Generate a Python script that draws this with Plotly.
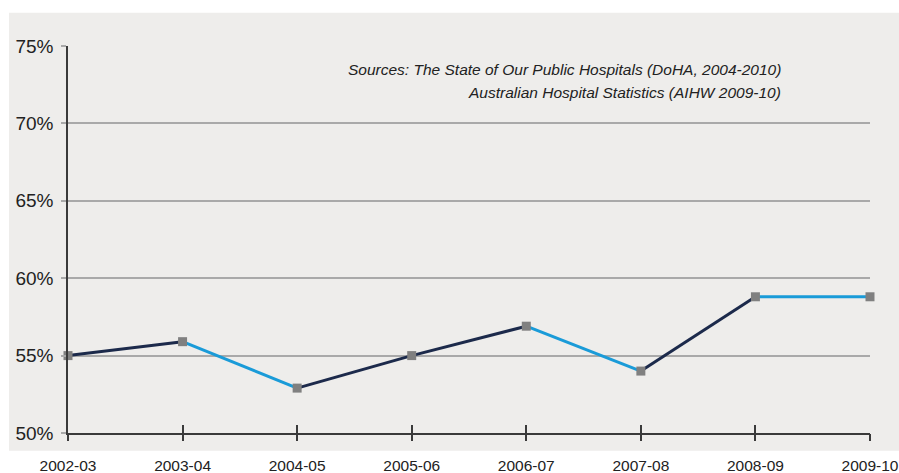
import plotly.graph_objects as go

categories = ["2002-03", "2003-04", "2004-05", "2005-06", "2006-07", "2007-08", "2008-09", "2009-10"]
values = [55.0, 55.9, 52.9, 55.0, 56.9, 54.0, 58.8, 58.8]
y_ticks = [50, 55, 60, 65, 70, 75]
y_tick_labels = [f"{v}%" for v in y_ticks]
source_lines = ["Sources: The State of Our Public Hospitals (DoHA, 2004-2010)",
                "Australian Hospital Statistics (AIHW 2009-10)"]

NAVY = "#1c2a4b"
BLUE = "#1a9bd8"
segment_colors = [NAVY, BLUE, NAVY, NAVY, BLUE, NAVY, BLUE]

BG = "#eeedeb"
GRID = "#a9a9a9"
AXIS = "#3a3a3a"
FONT = "Liberation Sans, Arial, sans-serif"

fig = go.Figure()
for i in range(len(categories) - 1):
    fig.add_trace(go.Scatter(
        x=[categories[i], categories[i + 1]], y=[values[i], values[i + 1]],
        mode="lines", line=dict(color=segment_colors[i], width=3),
        hoverinfo="skip", showlegend=False, cliponaxis=False))

fig.add_trace(go.Scatter(
    x=categories, y=values, mode="markers", xaxis="x2",
    marker=dict(symbol="square", size=9, color="#808080"),
    showlegend=False, cliponaxis=False))

fig.add_shape(type="rect", xref="paper", yref="paper",
              x0=-0.0736, x1=1.04, y0=-0.0457, y1=1.086,
              fillcolor=BG, line=dict(width=0), layer="below")

for line, ypos in zip(source_lines, [0.938, 0.881]):
    fig.add_annotation(xref="paper", yref="paper", x=0.891, y=ypos,
                       xanchor="right", yanchor="middle", align="right",
                       text=line, showarrow=False,
                       font=dict(family=FONT, size=15.5, color="#222222", style="italic"))

fig.update_layout(
    width=899, height=473,
    margin=dict(l=68, r=29, t=46, b=40, autoexpand=False),
    paper_bgcolor="white", plot_bgcolor=BG,
    font=dict(family=FONT, color="#222222"),
    xaxis=dict(type="category", categoryorder="array", categoryarray=categories,
               range=[0, len(categories) - 1], showgrid=False, zeroline=False,
               showline=True, linecolor=AXIS, linewidth=2, automargin=False,
               ticks="inside", ticklen=8, tickcolor=AXIS, tickwidth=1.5,
               showticklabels=False),
    xaxis2=dict(type="category", categoryorder="array", categoryarray=categories,
                range=[0, len(categories) - 1], overlaying="x", side="bottom",
                anchor="y", showgrid=False, zeroline=False, showline=False,
                automargin=False,
                ticks="outside", ticklen=7, tickcolor=AXIS, tickwidth=1.5,
                tickfont=dict(size=15.5, color="#222222"), ticklabelstandoff=11),
    yaxis=dict(range=[50, 75], tickmode="array", tickvals=y_ticks, ticktext=y_tick_labels,
               showgrid=True, gridcolor=GRID, gridwidth=1.5, zeroline=False,
               showline=True, linecolor=AXIS, linewidth=1.5, automargin=False,
               ticks="outside", ticklen=5, tickcolor=GRID, tickwidth=1.5,
               tickfont=dict(size=19, color="#222222"), ticklabelstandoff=4),
)

fig.write_html("out.html", config={"displayModeBar": False},
               post_script="document.body.style.margin='0';document.body.style.overflow='hidden';")
